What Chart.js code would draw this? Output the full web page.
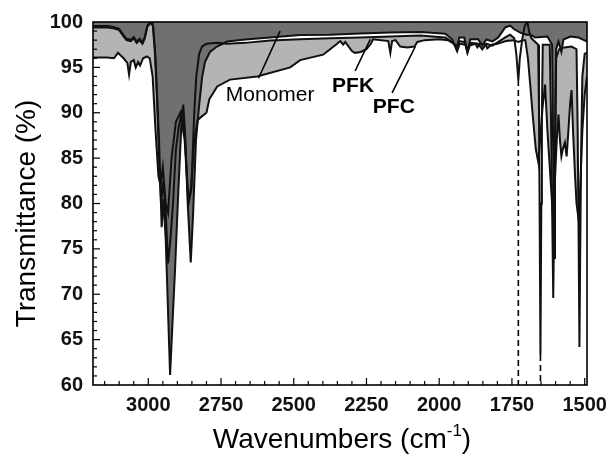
<!DOCTYPE html>
<html>
<head>
<meta charset="utf-8">
<script src="https://cdn.jsdelivr.net/npm/chart.js@4.4.1/dist/chart.umd.min.js"></script>
<style>
  html, body { margin: 0; padding: 0; background: #fff; }
  #wrap { width: 611px; height: 457px; }
</style>
</head>
<body>
<div id="wrap"><canvas id="ftir" width="611" height="457"></canvas></div>
<script>
// --- spectra (wavenumber in cm-1, transmittance in %) ---
const monomerWn = [3190, 3140, 3120, 3100, 3085, 3075, 3060, 3050, 3040, 3030, 3020, 3012, 3003, 2992, 2985, 2978, 2970, 2963, 2954, 2948,
  2940, 2932, 2925, 2918, 2908, 2898, 2887, 2880, 2874, 2865, 2854, 2846, 2836, 2825, 2815, 2805, 2788, 2764, 2729, 2667,
  2581, 2478, 2375, 2272, 2168, 2065, 1979, 1955, 1941, 1931, 1914, 1903, 1893, 1866, 1852, 1838, 1817, 1797, 1773, 1756,
  1742, 1720, 1700, 1687, 1670, 1628, 1612, 1608, 1605, 1602, 1598, 1590, 1580, 1573, 1549, 1522, 1492];
const monomerT = [99.4, 99.4, 99.3, 99.1, 98.4, 98.0, 97.9, 98.2, 97.7, 98.0, 97.6, 98.2, 99.5, 99.9, 99.9, 97, 92, 87, 77.4, 80.5,
  76, 68, 61.1, 66, 72.7, 80.4, 88.1, 90.9, 88.1, 80.4, 73.5, 78.8, 87, 90.9, 93.9, 95.6, 96.7, 97.3, 97.85, 98.07,
  98.3, 98.57, 98.6, 98.73, 98.84, 98.9, 98.7, 98.07, 96.96, 98.3, 98.3, 96.7, 98.1, 98.1, 97.4, 98.07, 97.85, 98.3, 99.4, 99.6,
  99.2, 98.8, 98.6, 98.6, 98.3, 98.4, 97.5, 85, 74, 85, 97, 97.85, 96.7, 98.07, 98.4, 98.3, 97.85];

const pfkWn = [3190, 3140, 3120, 3100, 3085, 3075, 3060, 3050, 3040, 3030, 3020, 3012, 3003, 2992, 2983, 2975, 2968, 2962, 2956, 2948,
  2940, 2932, 2924, 2915, 2905, 2895, 2885, 2875, 2862, 2852, 2842, 2835, 2825, 2815, 2800, 2764, 2729, 2667, 2581, 2478,
  2375, 2272, 2168, 2065, 1979, 1955, 1941, 1931, 1914, 1903, 1893, 1866, 1852, 1838, 1817, 1797, 1773, 1756, 1742, 1735,
  1728, 1723, 1715, 1706, 1697, 1690, 1683, 1660, 1657, 1655, 1652, 1649, 1647, 1644, 1620, 1616, 1612, 1608, 1605, 1601,
  1598, 1588, 1570, 1545, 1528, 1524, 1521, 1518, 1515, 1512, 1508, 1500, 1492];
const pfkT = [99.55, 99.55, 99.45, 99.25, 98.55, 98.15, 98.05, 98.35, 97.85, 98.15, 97.75, 98.35, 99.6, 99.95, 99.5, 96, 90, 84, 80, 82.5,
  79, 73.4, 76, 80, 86, 88.5, 90, 88, 80, 81.5, 90, 94, 96.5, 97.3, 97.6, 97.7, 97.6, 97.7, 97.95, 98.1,
  98.2, 98.3, 98.4, 98.5, 98.3, 97.8, 97.2, 97.9, 97.8, 97.0, 97.7, 97.6, 97.0, 97.6, 97.4, 97.8, 98.3, 98.6, 98.2, 96.5,
  93.6, 96, 98, 99.6, 100, 98.8, 98.2, 97.5, 90, 80, 63.3, 80, 90, 97.5, 97.5, 90, 80, 69.6, 78, 88,
  96, 97, 97.2, 97.3, 97, 88, 77, 64.2, 76, 86, 94, 96.5, 96.6];

const pfcWn = [3190, 3142, 3118, 3104, 3085, 3072, 3066, 3060, 3050, 3043, 3035, 3028, 3018, 3005, 2995, 2985, 2975, 2965, 2958, 2950,
  2940, 2932, 2920, 2905, 2890, 2875, 2862, 2852, 2842, 2830, 2816, 2800, 2790, 2763, 2719, 2626, 2512, 2478, 2399, 2375,
  2351, 2340, 2330, 2323, 2300, 2290, 2270, 2250, 2235, 2228, 2175, 2168, 2162, 2150, 2134, 2110, 2085, 2075, 2050, 2000,
  1970, 1945, 1938, 1930, 1910, 1903, 1895, 1875, 1869, 1860, 1840, 1835, 1820, 1800, 1790, 1770, 1745, 1728, 1712, 1704,
  1695, 1687, 1678, 1668, 1659, 1652, 1645, 1636, 1628, 1620, 1612, 1608, 1603, 1596, 1590, 1585, 1580, 1575, 1568, 1562,
  1556, 1550, 1545, 1540, 1533, 1528, 1520, 1515, 1508, 1500, 1492];
const pfcT = [96.1, 96.1, 96.0, 96.6, 96.0, 95.5, 94.2, 95.6, 95.8, 95.0, 95.6, 95.2, 96.0, 96.2, 96.0, 94, 88, 83, 82, 84,
  80, 79, 85, 89, 90, 87, 80, 82, 87, 89.2, 89.6, 90, 91.5, 92.9, 93.65, 94.0, 95.0, 95.8, 96.4, 97.0,
  97.6, 97.9, 97.5, 97.8, 96.8, 96.6, 96.7, 97.0, 97.6, 98.1, 97.9, 96.6, 97.9, 98.0, 97.3, 97.2, 97.3, 97.8, 98.0, 98.1,
  98.0, 97.5, 96.8, 97.6, 97.5, 96.6, 97.4, 97.6, 97.2, 97.6, 97.5, 97.1, 97.5, 97.6, 97.7, 97.9, 98.0, 97.8, 98.0, 98.0,
  96, 93, 89.5, 86, 84.5, 87.5, 90.5, 93.1, 88, 84, 80, 78, 82, 87, 89.8, 87, 85.2, 86, 86.7, 85.2,
  88, 91, 92.5, 88, 83, 80, 78, 82, 88, 92, 94];

const xTicks = [3000, 2750, 2500, 2250, 2000, 1750, 1500];
const yTicks = [60, 65, 70, 75, 80, 85, 90, 95, 100];

// --- annotations (in data units) ---
const labelNames = ['Monomer', 'PFK', 'PFC'];
const labelBold = [false, true, true];
const labelAt = [[2581, 91.3], [2296, 92.3], [2156, 90.0]];
const leaderFrom = [[2621, 93.8], [2289, 94.6], [2162, 92.2]];
const leaderTo = [[2547, 99.0], [2237, 98.1], [2082, 97.3]];
const markerWn = [1728, 1652];
const markerTop = [93.6, 63.3];

const FONT = '"Liberation Sans", Arial, sans-serif';
const toPoints = (wn, t) => wn.map((w, i) => ({ x: w, y: t[i] }));

const decorations = {
    id: 'decorations',
    afterDatasetsDraw(chart) {
        const { ctx, chartArea: a, scales: { x, y } } = chart;
        ctx.save();
        ctx.strokeStyle = '#000';
        ctx.fillStyle = '#000';

        // dashed band markers
        ctx.lineWidth = 1.6;
        ctx.setLineDash([6, 4]);
        markerWn.forEach((w, i) => {
            const px = x.getPixelForValue(w);
            ctx.beginPath();
            ctx.moveTo(px, y.getPixelForValue(markerTop[i]));
            ctx.lineTo(px, a.bottom);
            ctx.stroke();
        });
        ctx.setLineDash([]);

        // frame
        ctx.lineWidth = 1.6;
        ctx.strokeRect(a.left, a.top, a.right - a.left, a.bottom - a.top);

        // inward ticks
        ctx.lineWidth = 1.2;
        for (let w = 1500; w <= 3150; w += 50) {
            const px = x.getPixelForValue(w);
            const len = w % 250 === 0 ? 7 : 4;
            ctx.beginPath(); ctx.moveTo(px, a.bottom); ctx.lineTo(px, a.bottom - len); ctx.stroke();
        }
        for (let v = 61; v < 100; v++) {
            const py = y.getPixelForValue(v);
            const len = v % 5 === 0 ? 7 : 4;
            ctx.beginPath(); ctx.moveTo(a.left, py); ctx.lineTo(a.left + len, py); ctx.stroke();
        }

        // leaders and labels
        ctx.lineWidth = 1.6;
        labelNames.forEach((name, i) => {
            ctx.beginPath();
            ctx.moveTo(x.getPixelForValue(leaderFrom[i][0]), y.getPixelForValue(leaderFrom[i][1]));
            ctx.lineTo(x.getPixelForValue(leaderTo[i][0]), y.getPixelForValue(leaderTo[i][1]));
            ctx.stroke();
            ctx.font = (labelBold[i] ? 'bold ' : '') + '21px ' + FONT;
            ctx.textAlign = 'center';
            ctx.textBaseline = 'alphabetic';
            ctx.fillText(name, x.getPixelForValue(labelAt[i][0]), y.getPixelForValue(labelAt[i][1]));
        });

        // axis titles
        ctx.font = '28px ' + FONT;
        ctx.textAlign = 'center';
        ctx.textBaseline = 'middle';
        ctx.save();
        ctx.translate(27, (a.top + a.bottom) / 2 + 10);
        ctx.rotate(-Math.PI / 2);
        ctx.fillText('Transmittance (%)', 0, 0);
        ctx.restore();

        const main = 'Wavenumbers (cm';
        const sup = '-1';
        const close = ')';
        ctx.textBaseline = 'alphabetic';
        ctx.textAlign = 'left';
        ctx.font = '28px ' + FONT;
        const wMain = ctx.measureText(main).width;
        const wClose = ctx.measureText(close).width;
        ctx.font = '17px ' + FONT;
        const wSup = ctx.measureText(sup).width;
        let tx = (a.left + a.right) / 2 - (wMain + wSup + wClose) / 2 + 2;
        const base = 448;
        ctx.font = '28px ' + FONT;
        ctx.fillText(main, tx, base);
        tx += wMain;
        ctx.font = '17px ' + FONT;
        ctx.fillText(sup, tx, base - 12);
        tx += wSup;
        ctx.font = '28px ' + FONT;
        ctx.fillText(close, tx, base);
        ctx.restore();
    }
};

const lineStyle = { borderColor: '#111', borderWidth: 2, pointRadius: 0, tension: 0, fill: 'end' };

new Chart(document.getElementById('ftir'), {
    type: 'line',
    data: {
        datasets: [
            Object.assign({ label: 'Monomer', data: toPoints(monomerWn, monomerT), backgroundColor: '#707070' }, lineStyle),
            Object.assign({ label: 'PFK', data: toPoints(pfkWn, pfkT), backgroundColor: '#ffffff' }, lineStyle),
            Object.assign({ label: 'PFC', data: toPoints(pfcWn, pfcT), backgroundColor: '#b4b4b4' }, lineStyle)
        ]
    },
    options: {
        responsive: false,
        animation: false,
        layout: { padding: { top: 22, right: 24, left: 0, bottom: 0 } },
        plugins: {
            legend: { display: false },
            tooltip: { enabled: false },
            filler: { drawTime: 'beforeDatasetsDraw' }
        },
        scales: {
            x: {
                type: 'linear', reverse: true, min: 1492, max: 3190,
                grid: { display: false, drawTicks: false },
                border: { display: false },
                afterBuildTicks: (s) => { s.ticks = xTicks.map(v => ({ value: v })); },
                afterFit: (s) => { s.height = 72; s.paddingLeft = 0; s.paddingRight = 0; },
                ticks: { color: '#111', padding: 8, maxRotation: 0, autoSkip: false,
                    font: { family: FONT, size: 20, weight: 'bold' }, callback: v => String(v) }
            },
            y: {
                min: 60, max: 100,
                grid: { display: false, drawTicks: false },
                border: { display: false },
                afterBuildTicks: (s) => { s.ticks = yTicks.map(v => ({ value: v })); },
                afterFit: (s) => { s.width = 93; s.paddingTop = 0; s.paddingBottom = 0; },
                ticks: { color: '#111', padding: 10,
                    font: { family: FONT, size: 20, weight: 'bold' }, callback: v => String(v) }
            }
        }
    },
    plugins: [decorations]
});
</script>
</body>
</html>
